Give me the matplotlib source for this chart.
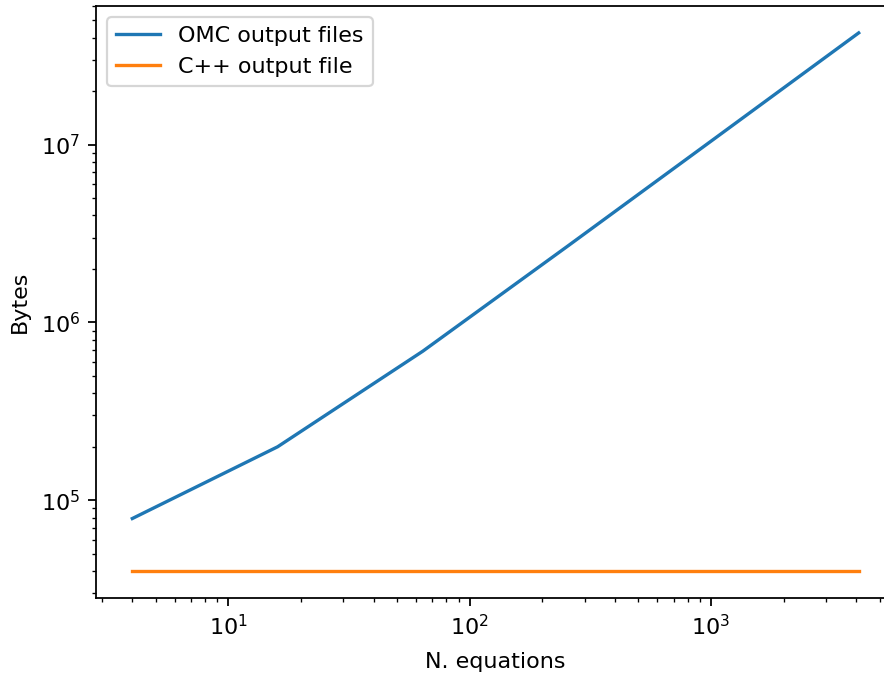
import matplotlib
matplotlib.use("Agg")
import matplotlib.pyplot as plt

n_equations = [4, 16, 64, 256, 1024, 4096]
omc_bytes = [7.9e4, 2.0e5, 6.9e5, 2.7e6, 1.07e7, 4.25e7]
cpp_bytes = [4.0e4, 4.0e4, 4.0e4, 4.0e4, 4.0e4, 4.0e4]

DPI = 160
fig = plt.figure(figsize=(884/DPI, 680/DPI), dpi=DPI)
ax = fig.add_axes([96/884, (680-598)/680, 799/884, 592/680])
ax.plot(n_equations, omc_bytes, label="OMC output files")
ax.plot(n_equations, cpp_bytes, label="C++ output file")
ax.set_xscale("log")
ax.set_yscale("log")
ax.set_xlabel("N. equations", labelpad=6)
ax.set_ylabel("Bytes", labelpad=5)
ax.legend(loc="upper left")
fig.savefig("out.png", dpi=DPI)
